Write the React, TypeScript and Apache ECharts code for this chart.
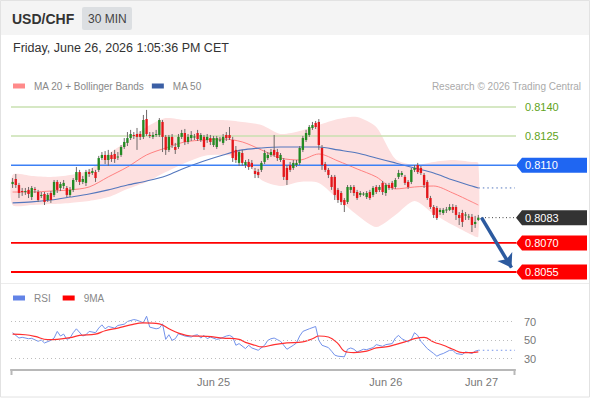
import React, { useEffect, useRef } from "react";
import * as echarts from "echarts";

const FONT = '"Liberation Sans", Arial, Helvetica, sans-serif';

const symbolName = "USD/CHF";
const timeframe = "30 MIN";
const timestamp = "Friday, June 26, 2026 1:05:36 PM CET";
const copyright = "Research © 2026 Trading Central";

// [open, close, low, high] per 30-minute candle
const candles: number[][] = [
  [0.81003, 0.81014, 0.80983, 0.81034], [0.81029, 0.80998, 0.80983, 0.81055], [0.80998, 0.80957, 0.80931, 0.81009],
  [0.80967, 0.80962, 0.80942, 0.80983], [0.80962, 0.80967, 0.80947, 0.80983], [0.80973, 0.80952, 0.80931, 0.80988],
  [0.80936, 0.80983, 0.80921, 0.80993], [0.80978, 0.80973, 0.80957, 0.80988], [0.80962, 0.80921, 0.80911, 0.80973],
  [0.80942, 0.80947, 0.80931, 0.80962], [0.80952, 0.80911, 0.80895, 0.80962], [0.80921, 0.80947, 0.80911, 0.80957],
  [0.80957, 0.80921, 0.80906, 0.80967], [0.80947, 0.81014, 0.80936, 0.81024], [0.81014, 0.80973, 0.80957, 0.81024],
  [0.80983, 0.81003, 0.80967, 0.81014], [0.80993, 0.81009, 0.80978, 0.81024], [0.80983, 0.80947, 0.80936, 0.80993],
  [0.80947, 0.80973, 0.80936, 0.80988], [0.80973, 0.81024, 0.80962, 0.81034], [0.81024, 0.81065, 0.81014, 0.81091],
  [0.81065, 0.81014, 0.80998, 0.81076], [0.81014, 0.81029, 0.81003, 0.81045], [0.81009, 0.81065, 0.80993, 0.81076],
  [0.81065, 0.81055, 0.8104, 0.81081], [0.8106, 0.8107, 0.8105, 0.81086], [0.81065, 0.81034, 0.81014, 0.81076],
  [0.81076, 0.81137, 0.81065, 0.81148], [0.81137, 0.81153, 0.81127, 0.81168], [0.81153, 0.81127, 0.81106, 0.81173],
  [0.81127, 0.81153, 0.81096, 0.81179], [0.81153, 0.81132, 0.81117, 0.81168], [0.81158, 0.81132, 0.81112, 0.81179],
  [0.81143, 0.81145, 0.81127, 0.81168], [0.81153, 0.81194, 0.81143, 0.81204], [0.81194, 0.8122, 0.81184, 0.8124],
  [0.81215, 0.8124, 0.81199, 0.81271], [0.8124, 0.81261, 0.8123, 0.81282], [0.81256, 0.81251, 0.81235, 0.81271],
  [0.81261, 0.81246, 0.81179, 0.81292], [0.81261, 0.81246, 0.8123, 0.81276], [0.81246, 0.81333, 0.81235, 0.81359],
  [0.81338, 0.81261, 0.81251, 0.81385], [0.81256, 0.81251, 0.8124, 0.81271], [0.81246, 0.81256, 0.81235, 0.81271],
  [0.81256, 0.81261, 0.81246, 0.81282], [0.81256, 0.81333, 0.81246, 0.81343], [0.81323, 0.81246, 0.81168, 0.81333],
  [0.81246, 0.81179, 0.81153, 0.81256], [0.81179, 0.81246, 0.81168, 0.81256], [0.81246, 0.81204, 0.81189, 0.81261],
  [0.81194, 0.81179, 0.81158, 0.81215], [0.81194, 0.81246, 0.81184, 0.81261], [0.81246, 0.81266, 0.81235, 0.81282],
  [0.81266, 0.8122, 0.81204, 0.81287], [0.8122, 0.81246, 0.81209, 0.81261], [0.8124, 0.81256, 0.81225, 0.81276],
  [0.81246, 0.81248, 0.8123, 0.81261], [0.81266, 0.81235, 0.81225, 0.81282], [0.8123, 0.81256, 0.8122, 0.81266],
  [0.81246, 0.81194, 0.81179, 0.81256], [0.8123, 0.81246, 0.81215, 0.81261], [0.8124, 0.8122, 0.81204, 0.81256],
  [0.81204, 0.8124, 0.81194, 0.81251], [0.81194, 0.8124, 0.81184, 0.81251], [0.8123, 0.81232, 0.8122, 0.81246],
  [0.81215, 0.81246, 0.81204, 0.81261], [0.81256, 0.8124, 0.81225, 0.81271], [0.81256, 0.8124, 0.8123, 0.81297],
  [0.8123, 0.81137, 0.81117, 0.81246], [0.81179, 0.81127, 0.81112, 0.81199], [0.81112, 0.81168, 0.81096, 0.81179],
  [0.81163, 0.81112, 0.81096, 0.81179], [0.81101, 0.81117, 0.81086, 0.81127], [0.81117, 0.81091, 0.81076, 0.81132],
  [0.81112, 0.81091, 0.81081, 0.81127], [0.8107, 0.81055, 0.81034, 0.81086], [0.81065, 0.8105, 0.81034, 0.81081],
  [0.81076, 0.81112, 0.81065, 0.81122], [0.81117, 0.81163, 0.81106, 0.81179], [0.81137, 0.81153, 0.81127, 0.81168],
  [0.81153, 0.81168, 0.81143, 0.81184], [0.81179, 0.81153, 0.81143, 0.81256], [0.81168, 0.81137, 0.81122, 0.81184],
  [0.81127, 0.81153, 0.81117, 0.81163], [0.81127, 0.8104, 0.81024, 0.81137], [0.81086, 0.81024, 0.80998, 0.81101],
  [0.81101, 0.81076, 0.81065, 0.81117], [0.81086, 0.81112, 0.81076, 0.81127], [0.81101, 0.81112, 0.81091, 0.81127],
  [0.81112, 0.81189, 0.81101, 0.81199], [0.81179, 0.8124, 0.81168, 0.81251], [0.8123, 0.81266, 0.8122, 0.81282],
  [0.81256, 0.81297, 0.81246, 0.81307], [0.81292, 0.81307, 0.81282, 0.81323], [0.81318, 0.81297, 0.81287, 0.81328],
  [0.81323, 0.81204, 0.81179, 0.81338], [0.81189, 0.81101, 0.81076, 0.81204], [0.81106, 0.81076, 0.81065, 0.81117],
  [0.81076, 0.8105, 0.81034, 0.81086], [0.8104, 0.80988, 0.80973, 0.8105], [0.8104, 0.80947, 0.80921, 0.8105],
  [0.80973, 0.80921, 0.80906, 0.80983], [0.80957, 0.80911, 0.80895, 0.80967], [0.80921, 0.80895, 0.80859, 0.80931],
  [0.80911, 0.80988, 0.809, 0.80998], [0.80973, 0.80988, 0.80957, 0.80998], [0.80988, 0.80957, 0.80942, 0.80998],
  [0.80962, 0.80931, 0.80921, 0.80973], [0.80947, 0.80957, 0.80936, 0.80967], [0.80952, 0.80954, 0.80942, 0.80962],
  [0.80936, 0.80957, 0.80926, 0.80967], [0.80962, 0.80931, 0.80921, 0.80973], [0.80947, 0.80983, 0.80936, 0.80993],
  [0.80988, 0.80962, 0.80952, 0.80998], [0.80973, 0.80988, 0.80962, 0.80998], [0.81009, 0.80962, 0.80947, 0.81019],
  [0.80957, 0.80998, 0.80942, 0.81009], [0.80998, 0.80983, 0.80973, 0.81009], [0.81009, 0.80983, 0.80973, 0.81019],
  [0.80988, 0.81024, 0.80978, 0.81034], [0.8104, 0.8106, 0.81029, 0.81076], [0.8105, 0.8106, 0.8104, 0.8107],
  [0.8104, 0.81009, 0.80998, 0.8105], [0.81014, 0.80988, 0.80978, 0.81024], [0.81014, 0.81076, 0.81003, 0.81086],
  [0.81076, 0.81086, 0.81065, 0.81101], [0.81101, 0.81065, 0.81055, 0.81112], [0.81086, 0.8106, 0.8105, 0.81096],
  [0.8105, 0.80998, 0.80983, 0.8106], [0.81014, 0.80931, 0.80921, 0.81024], [0.80931, 0.80885, 0.80875, 0.80942],
  [0.80885, 0.80844, 0.80828, 0.80895], [0.8088, 0.80828, 0.80818, 0.8089], [0.80859, 0.8087, 0.80844, 0.8088],
  [0.80854, 0.8087, 0.80844, 0.8088], [0.8087, 0.80872, 0.80854, 0.80885], [0.8087, 0.80885, 0.80864, 0.809],
  [0.80885, 0.8087, 0.80854, 0.809], [0.80885, 0.80844, 0.80818, 0.80895], [0.80844, 0.80828, 0.80792, 0.80859],
  [0.80854, 0.80808, 0.80782, 0.8087], [0.80844, 0.80846, 0.80818, 0.80859], [0.80834, 0.80836, 0.80818, 0.80849],
  [0.80834, 0.80792, 0.80756, 0.80849], [0.80797, 0.80808, 0.80777, 0.80839], [0.80818, 0.8083, 0.80813, 0.80844],
];
const futureSlots = 11;

const dayTicks = ["Jun 25", "Jun 26", "Jun 27"];
const dayTickIndex = [63, 117, 147];

const bandIndex = [0, 6, 12, 18, 24, 30, 36, 42, 48, 54, 60, 66, 72, 78, 84, 90, 96, 102, 108, 114, 120, 126, 132, 138, 144, 146];
const ma50 = [0.80906, 0.80911, 0.80921, 0.80936, 0.80952, 0.80973, 0.80998, 0.81019, 0.81045, 0.81086, 0.81122, 0.81153, 0.81179,
  0.81189, 0.81194, 0.81194, 0.81194, 0.81179, 0.81163, 0.81137, 0.81112, 0.81086, 0.8106, 0.81024, 0.80993, 0.80983];
const ma20 = [0.80962, 0.80962, 0.80967, 0.80973, 0.80988, 0.8104, 0.81091, 0.81153, 0.81189, 0.8122, 0.8123, 0.81235, 0.8122,
  0.81179, 0.81137, 0.81127, 0.81158, 0.81122, 0.81081, 0.8104, 0.80978, 0.80988, 0.80993, 0.80957, 0.80911, 0.80895];
const bbUpper = [0.8105, 0.81045, 0.8104, 0.8105, 0.81076, 0.81158, 0.81225, 0.81297, 0.81343, 0.81333, 0.81333, 0.81333, 0.81323,
  0.81307, 0.81261, 0.81276, 0.81307, 0.81338, 0.81349, 0.81297, 0.81132, 0.81101, 0.81117, 0.81127, 0.81117, 0.81112];
const bbLower = [0.80895, 0.80895, 0.809, 0.80906, 0.80916, 0.80936, 0.80978, 0.81014, 0.81065, 0.81112, 0.81148, 0.81153, 0.81137,
  0.81024, 0.80993, 0.81014, 0.81009, 0.80926, 0.80844, 0.80782, 0.80844, 0.80916, 0.80849, 0.80792, 0.80741, 0.80731];

const levelValues = [0.814, 0.8125, 0.811, 0.807, 0.8055];
const levelKinds = ["resistance", "resistance", "pivot", "support", "support"];
const forecastEnd = [156.4, 0.80572];

const rsiPoints = [
  [0, 57.9], [2, 52.1], [3, 52.9], [5, 51.4], [6, 51.8], [8, 48.6], [9, 50], [10, 46.8], [12, 49.6], [13, 52.1], [14, 59.3],
  [15, 54.3], [16, 56.4], [17, 50.7], [18, 52.1], [19, 57.9], [20, 62.1], [22, 54.3], [23, 55.7], [24, 59.3], [26, 57.9],
  [27, 62.9], [28, 66.4], [29, 62.1], [30, 64.6], [32, 62.9], [33, 65.7], [35, 67.1], [36, 70], [38, 72.1], [39, 71.4],
  [41, 68.6], [42, 75.7], [43, 63.9], [45, 62.1], [46, 62.9], [47, 67.5], [48, 50.7], [49, 55.7], [50, 49.6], [51, 51.4],
  [52, 56.8], [54, 54.3], [56, 53.2], [57, 55], [58, 55.7], [59, 52.1], [60, 55], [61, 51.4], [62, 53.2], [64, 50.7],
  [65, 51.4], [67, 54.3], [68, 55], [69, 53.2], [70, 44.3], [71, 46.1], [73, 40.7], [74, 44.3], [75, 41.4], [77, 38.9],
  [79, 44.3], [80, 49.6], [81, 51.4], [82, 52.1], [83, 50.4], [84, 48.6], [86, 40], [88, 44.3], [89, 46.8], [90, 54.3],
  [91, 59.3], [93, 62.1], [95, 64.6], [96, 49.6], [97, 44.3], [99, 41.8], [100, 37.9], [101, 33.6], [102, 32.5], [104, 31.8],
  [105, 40], [106, 41.4], [107, 40], [108, 37.1], [110, 40], [111, 39.6], [113, 41.8], [114, 45], [116, 43.2], [117, 45],
  [119, 46.1], [120, 52.1], [121, 55], [122, 51.4], [124, 47.9], [125, 50.7], [126, 57.9], [127, 55], [128, 48.6],
  [130, 40.7], [132, 35.4], [133, 32.5], [134, 34.3], [135, 35.4], [137, 38.9], [138, 38.9], [139, 35.4], [141, 34.3],
  [142, 37.1], [143, 36.4], [144, 35.4], [145, 37.9], [146, 38.9],
];
const rsiMaPoints = [
  [0, 56.4], [4, 55.7], [7, 53.9], [11, 50.4], [14, 50.7], [18, 52.5], [21, 55], [26, 56.4], [29, 60], [33, 62.9], [37, 66.4],
  [41, 68.6], [46, 67.5], [49, 62.1], [52, 57.5], [56, 54.3], [61, 53.9], [66, 52.1], [71, 50.7], [73, 47.5], [76, 44.3],
  [78, 42.5], [82, 45], [86, 46.8], [91, 47.9], [94, 51.4], [96, 54.3], [99, 53.2], [102, 46.1], [104, 37.9], [107, 36.4],
  [111, 37.9], [114, 41.4], [117, 42.5], [120, 45], [123, 47.9], [126, 51.4], [129, 52.9], [132, 47.9], [135, 44.3],
  [138, 40], [141, 36.4], [144, 36.4], [146, 37.1],
];
const rsiLevels = [70, 50, 30];

const UP = "#238a23";
const DOWN = "#e3171b";
const WICK = "#6e6868";

const levelStyles: Record<string, { line: string; width: number; tag: string | null; text: string }> = {
  resistance: { line: "#c8e1b1", width: 1.5, tag: null, text: "#5fa321" },
  pivot: { line: "#3c80f5", width: 1.6, tag: "#1f66f2", text: "#ffffff" },
  support: { line: "#ff0000", width: 1.8, tag: "#ff0000", text: "#ffffff" },
  last: { line: "#444444", width: 1, tag: "#333333", text: "#ffffff" },
};

export default function App() {
  const ref = useRef<HTMLDivElement>(null);

  useEffect(() => {
    document.body.style.margin = "0";
    if (!ref.current) return;
    const chart = echarts.init(ref.current, null, { renderer: "svg" });

    const N = candles.length + futureSlots;
    const cats = Array.from({ length: N }, (_, i) => {
      const k = dayTickIndex.indexOf(i);
      return k >= 0 ? dayTicks[k] : "";
    });
    const lastIdx = candles.length - 1;
    const lastClose = candles[lastIdx][1];
    const axisEnd = N - 0.5;
    const lastMa50 = ma50[ma50.length - 1];
    const lastRsi = rsiPoints[rsiPoints.length - 1][1];

    const levelData = levelValues.map((v, k) => [k, v, levelKinds[k]]);
    levelData.push([levelValues.length, lastClose, "last"]);

    const option: any = {
      animation: false,
      textStyle: { fontFamily: FONT },
      grid: [
        { left: 11, right: 75, top: 97.3, height: 184.4 },
        { left: 11, right: 75, top: 312.25, height: 57.35 },
      ],
      legend: [
        {
          left: 13, top: 81, padding: 0, itemWidth: 12, itemHeight: 5, itemGap: 7.5, selectedMode: false,
          textStyle: { color: "#888", fontSize: 10, fontFamily: FONT, padding: [0, 0, 0, 4] },
          data: [
            { name: "MA 20 + Bollinger Bands", icon: "rect", itemStyle: { color: "#ff8a8a" } },
            { name: "MA 50", icon: "rect", itemStyle: { color: "#3b5fa5" } },
          ],
        },
        {
          left: 13, top: 293, padding: 0, itemWidth: 12, itemHeight: 5, itemGap: 12, selectedMode: false,
          textStyle: { color: "#888", fontSize: 10, fontFamily: FONT, padding: [0, 0, 0, 4] },
          data: [
            { name: "RSI", icon: "rect", itemStyle: { color: "#6283e6" } },
            { name: "9MA", icon: "rect", itemStyle: { color: "#ff0000" } },
          ],
        },
      ],
      xAxis: [
        { type: "category", gridIndex: 0, data: cats, boundaryGap: true, show: false },
        { type: "value", gridIndex: 0, min: -0.5, max: axisEnd, show: false },
        { type: "value", gridIndex: 1, min: -0.5, max: axisEnd, show: false },
        {
          type: "category", gridIndex: 1, data: cats, boundaryGap: true, position: "bottom",
          axisLine: { lineStyle: { color: "#b8b8b8", width: 2 } },
          axisTick: { show: false },
          axisLabel: { interval: 0, color: "#777", fontSize: 11, margin: 7, fontFamily: FONT },
          splitLine: { show: false },
        },
      ],
      yAxis: [
        { type: "value", gridIndex: 0, min: 0.805, max: 0.8145, show: false },
        { type: "value", gridIndex: 1, min: 18, max: 80, show: false },
      ],
      graphic: [
        { type: "rect", shape: { x: 0, y: 0, width: 590, height: 35 }, style: { fill: "#f4f4f4" }, silent: true },
        { type: "rect", shape: { x: 0.5, y: 0.5, width: 589, height: 396.5 }, style: { fill: "none", stroke: "#e2e2e2", lineWidth: 1 }, silent: true },
        { type: "rect", shape: { x: 82, y: 7, width: 50, height: 23, r: 2 }, style: { fill: "#dcdfe2" }, silent: true },
        { type: "text", x: 12, y: 19, style: { text: symbolName, fill: "#333", font: `bold 14px ${FONT}`, verticalAlign: "middle" }, silent: true },
        { type: "text", x: 88, y: 19, style: { text: timeframe, fill: "#444", font: `12px ${FONT}`, verticalAlign: "middle" }, silent: true },
        { type: "text", x: 13, y: 48, style: { text: timestamp, fill: "#333", font: `12.5px ${FONT}`, verticalAlign: "middle" }, silent: true },
        { type: "text", x: 581, y: 86, style: { text: copyright, fill: "#aaa", font: `10px ${FONT}`, align: "right", verticalAlign: "middle" }, silent: true },
        { type: "line", shape: { x1: 1, y1: 283.5, x2: 589, y2: 283.5 }, style: { stroke: "#ececec", lineWidth: 1 }, silent: true },
        { type: "line", shape: { x1: 11.5, y1: 369, x2: 11.5, y2: 375 }, style: { stroke: "#b8b8b8", lineWidth: 2 }, silent: true },
        { type: "line", shape: { x1: 514.5, y1: 369, x2: 514.5, y2: 375 }, style: { stroke: "#b8b8b8", lineWidth: 2 }, silent: true },
      ],
      series: [
        {
          type: "custom", name: "bands", xAxisIndex: 1, yAxisIndex: 0, z: 1, silent: true,
          data: [[bandIndex[0], bbUpper[0]]],
          renderItem: (_params: any, api: any) => {
            const pts: number[][] = [];
            bandIndex.forEach((ix, k) => pts.push(api.coord([ix, bbUpper[k]])));
            for (let k = bandIndex.length - 1; k >= 0; k--) pts.push(api.coord([bandIndex[k], bbLower[k]]));
            return { type: "polygon", shape: { points: pts, smooth: 0.25 }, style: { fill: "#fde0e0" } };
          },
        },
        {
          type: "line", name: "MA 20 + Bollinger Bands", xAxisIndex: 1, yAxisIndex: 0, z: 2, silent: true,
          symbol: "none", smooth: 0.3, data: bandIndex.map((ix, k) => [ix, ma20[k]]),
          lineStyle: { color: "#ff8080", width: 1 }, itemStyle: { color: "#ff8a8a" },
        },
        {
          type: "line", name: "MA 50", xAxisIndex: 1, yAxisIndex: 0, z: 2, silent: true,
          symbol: "none", smooth: 0.3, data: bandIndex.map((ix, k) => [ix, ma50[k]]),
          lineStyle: { color: "#5477bd", width: 1.1 }, itemStyle: { color: "#3b5fa5" },
        },
        {
          type: "custom", name: "levels", xAxisIndex: 1, yAxisIndex: 0, z: 3, silent: true,
          data: levelData, encode: { x: 0, y: 1 },
          renderItem: (params: any, api: any) => {
            const row = levelData[params.dataIndex];
            const v = row[1] as number;
            const kind = row[2] as string;
            const st = levelStyles[kind];
            const cs = params.coordSys;
            const y = api.coord([0, v])[1];
            const right = cs.x + cs.width;
            const children: any[] = [];
            if (kind === "last") {
              const xs = api.coord([candles.length, v])[0];
              children.push({ type: "line", shape: { x1: xs, y1: y, x2: right + 1, y2: y }, style: { stroke: st.line, lineWidth: 1, lineDash: [1, 2.5] } });
            } else {
              children.push({ type: "line", shape: { x1: cs.x, y1: y, x2: right + 1, y2: y }, style: { stroke: st.line, lineWidth: st.width } });
            }
            if (st.tag) {
              children.push({
                type: "polygon",
                shape: { points: [[right + 1, y], [right + 7, y - 7.5], [587, y - 7.5], [587, y + 7.5], [right + 7, y + 7.5]] },
                style: { fill: st.tag },
              });
            }
            children.push({
              type: "text", x: right + 10, y,
              style: { text: v.toFixed(4), fill: st.text, font: `11px ${FONT}`, verticalAlign: "middle", align: "left" },
            });
            return { type: "group", children };
          },
        },
        {
          type: "custom", name: "candles", xAxisIndex: 0, yAxisIndex: 0, z: 5, silent: true,
          data: candles.map((c, i) => [i, c[0], c[1], c[2], c[3]]),
          encode: { x: 0, y: [1, 2, 3, 4] },
          renderItem: (_params: any, api: any) => {
            const i = api.value(0), o = api.value(1), c = api.value(2), l = api.value(3), h = api.value(4);
            const pO = api.coord([i, o]), pC = api.coord([i, c]), pL = api.coord([i, l]), pH = api.coord([i, h]);
            const bw = api.size([1, 0])[0] * 0.74;
            const x = pO[0];
            const top = Math.min(pO[1], pC[1]);
            const hgt = Math.max(Math.abs(pO[1] - pC[1]), 1);
            return {
              type: "group",
              children: [
                { type: "line", shape: { x1: x, y1: pH[1], x2: x, y2: pL[1] }, style: { stroke: WICK, lineWidth: 1 } },
                { type: "rect", shape: { x: x - bw / 2, y: top, width: bw, height: hgt }, style: { fill: c >= o ? UP : DOWN } },
              ],
            };
          },
        },
        {
          type: "line", name: "ma50-ext", xAxisIndex: 1, yAxisIndex: 0, z: 6, silent: true, symbol: "none",
          data: [[lastIdx, lastMa50], [axisEnd, lastMa50]],
          lineStyle: { color: "#5477bd", width: 1, type: [1.5, 3] },
          markLine: {
            silent: true, symbol: ["none", "arrow"], symbolSize: 13, animation: false,
            label: { show: false },
            lineStyle: { color: "#2c5a9f", width: 3.5, type: "solid" },
            emphasis: { disabled: true },
            data: [[{ coord: [candles.length, lastClose] }, { coord: forecastEnd }]],
          },
        },
        {
          type: "line", name: "RSI", xAxisIndex: 2, yAxisIndex: 1, z: 3, silent: true, symbol: "none",
          data: rsiPoints, lineStyle: { color: "#7392ea", width: 1 }, itemStyle: { color: "#6283e6" },
          markLine: {
            silent: true, symbol: "none", animation: false,
            lineStyle: { color: "#bdbdbd", width: 1, type: [1, 3] },
            label: { position: "end", distance: 9, color: "#777", fontSize: 11, fontFamily: FONT, formatter: "{c}" },
            emphasis: { disabled: true },
            data: rsiLevels.map((v) => ({ yAxis: v })),
          },
        },
        {
          type: "line", name: "9MA", xAxisIndex: 2, yAxisIndex: 1, z: 4, silent: true, symbol: "none", smooth: 0.4,
          data: rsiMaPoints, lineStyle: { color: "#ff3030", width: 1.2 }, itemStyle: { color: "#ff0000" },
        },
        {
          type: "line", name: "rsi-ext", xAxisIndex: 2, yAxisIndex: 1, z: 3, silent: true, symbol: "none",
          data: [[lastIdx, lastRsi], [axisEnd, lastRsi]],
          lineStyle: { color: "#7392ea", width: 1, type: [1.5, 3] },
        },
      ],
    };

    chart.setOption(option);
    return () => chart.dispose();
  }, []);

  return <div ref={ref} style={{ position: "absolute", left: 0, top: 0, width: 590, height: 400, background: "#fff" }} />;
}
